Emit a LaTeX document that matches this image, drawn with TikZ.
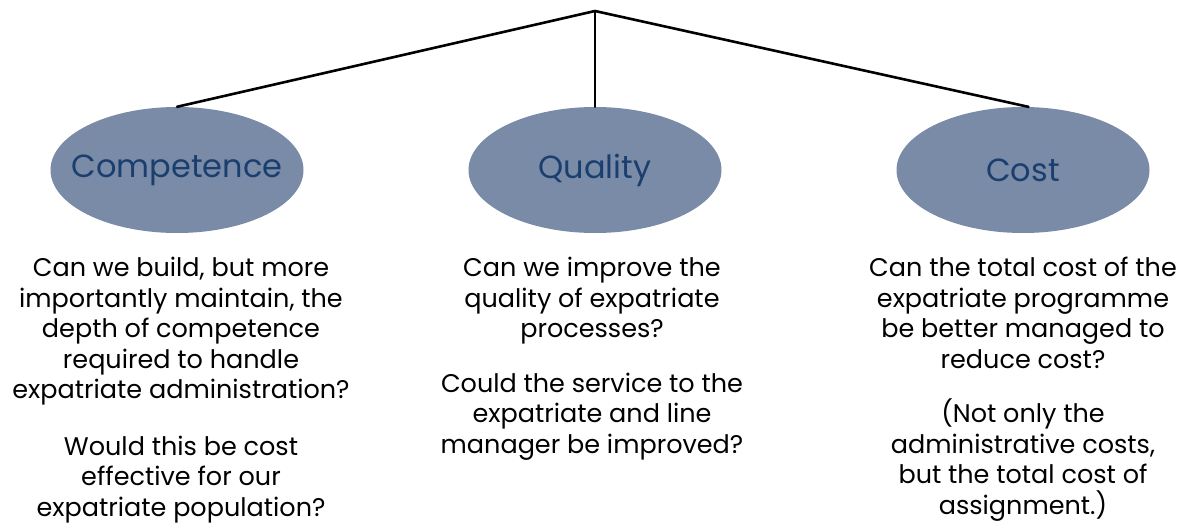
\documentclass[tikz,border=0pt]{standalone}
\usepackage{fontspec}
\setmainfont{Poppins}
\usetikzlibrary{positioning,shapes.geometric}
\definecolor{bubble}{HTML}{7A8BA7}
\definecolor{bubbletext}{HTML}{1A3F6E}
\begin{document}
\begin{tikzpicture}[x=1pt,y=1pt, line join = round, line cap = round]
            \tikzset{area/.style={ellipse,fill=bubble,minimum width=253pt,minimum height=126pt,inner sep=-40pt,
                    text=bubbletext,font=\fontsize{32}{36}\selectfont},
                question/.style={align=center,inner sep=0pt,
                    font=\fontsize{25.5}{30.5}\selectfont},
                branch/.style={line width=2.6pt}}
            \useasboundingbox (0,0) rectangle (1194,-524);
            \coordinate (root) at (595,-11);
            \node[area] (comp) at (177,-170) {Competence};
            \node[area] (qual) at (595,-170) {Quality};
            \node[area] (cost) at (1023,-170) {Cost};
            \draw[branch] (root) -- (comp.north);
            \draw[branch] (root) -- (qual.north);
            \draw[branch] (root) -- (cost.85);
            % questions under each area
            \node[question, below=24pt of comp, xshift=4pt] (compq) {Can we build, but more\\ importantly maintain, the\\ depth of competence\\ required to handle\\ expatriate administration?\\[26pt]
                Would this be cost\\ effective for our\\ expatriate population?};
            \node[question, below=24pt of qual, xshift=-3pt] (qualq) {Can we improve the\\ quality of expatriate\\ processes?\\[24pt]
                Could the service to the\\ expatriate and line\\ manager be improved?};
            \node[question, below=24pt of cost] (costq) {Can the total cost of the\\ expatriate programme\\ be better managed to\\ reduce cost?\\[24pt]
                (Not only the\\ administrative costs,\\ but the total cost of\\ assignment.)};
        \end{tikzpicture}
\end{document}
